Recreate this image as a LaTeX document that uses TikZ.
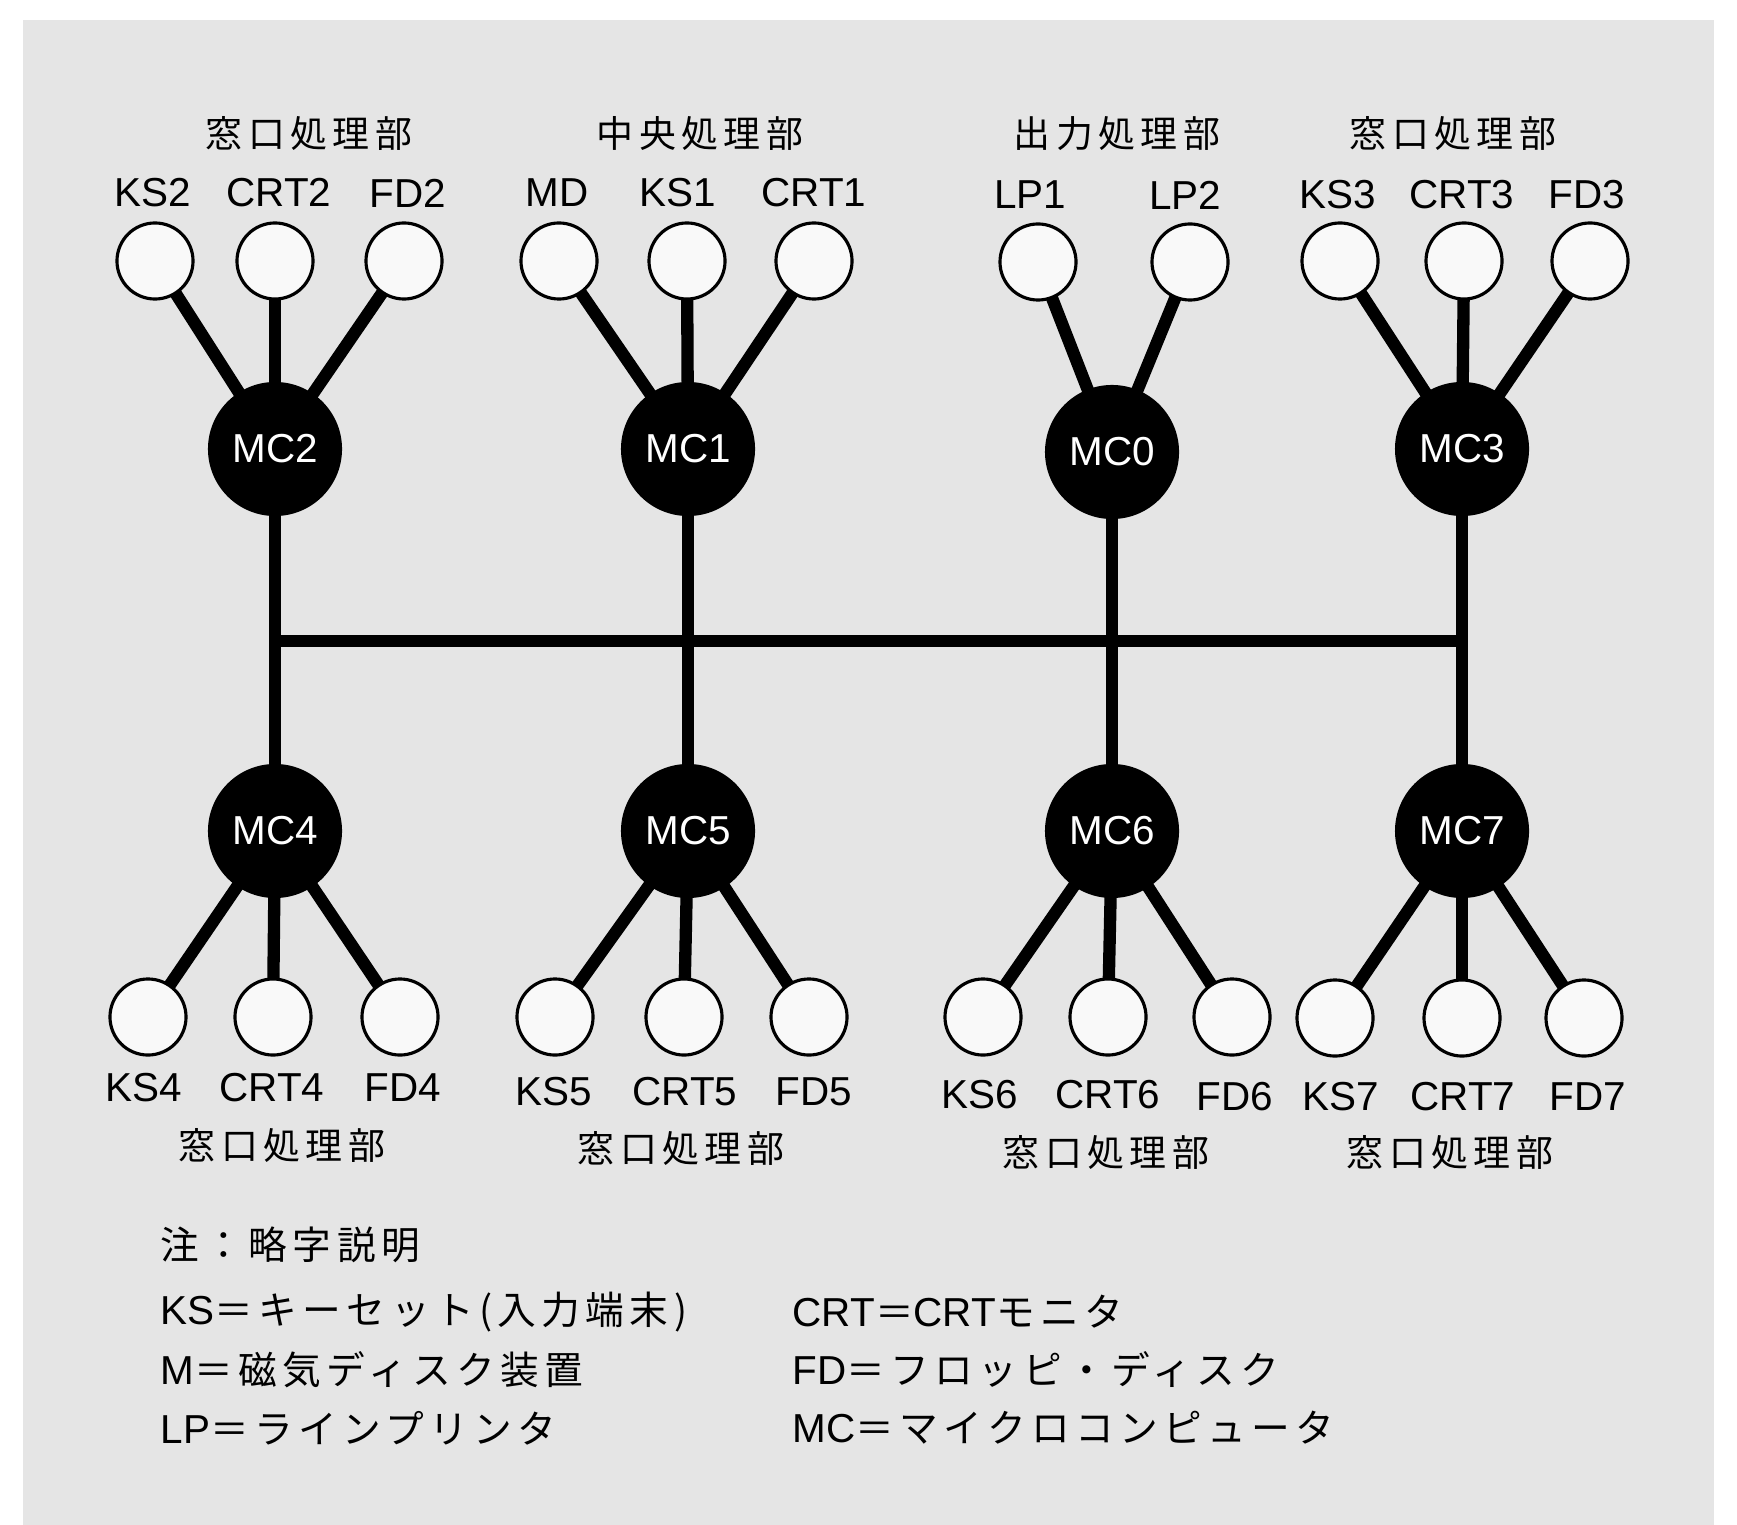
\documentclass[tikz,border=0pt]{standalone}
\usepackage{fontspec}
\setmainfont{Liberation Sans}
\newfontfamily\jpf[LetterSpace=15]{Noto Sans CJK JP}
\newfontfamily\jpleg[LetterSpace=14]{Noto Sans CJK JP}
\pgfdeclarelayer{bglayer}
\pgfdeclarelayer{linklayer}
\pgfsetlayers{bglayer,linklayer,main}
\definecolor{bggray}{HTML}{E5E5E5}
\definecolor{devfill}{HTML}{F9F9F9}
\tikzset{
  dev/.style={circle, draw=black, line width=0.9pt, fill=devfill, minimum size=0.76cm, inner sep=0pt},
  mc/.style={circle, fill=black, minimum size=1.34cm, inner sep=0pt, text=white, font=\fontsize{11.5}{13}\selectfont},
  link/.style={line width=3.5pt},
  lbl/.style={font=\fontsize{11.5}{13}\selectfont, inner sep=0pt},
  grp/.style={font=\fontsize{10.5}{12}\selectfont\jpf, inner sep=0pt},
  leg/.style={font=\fontsize{11.5}{13}\selectfont, inner sep=0pt, anchor=west},
}
\newcommand{\jl}[1]{{\fontsize{11}{13}\selectfont\jpleg #1}}
\begin{document}
\begin{tikzpicture}[x=0.01cm, y=-0.01cm]
\useasboundingbox (0,0) rectangle (1737,1525);
\begin{pgfonlayer}{bglayer}
\fill[bggray] (23,20) rectangle (1714,1525);
\end{pgfonlayer}

% microcomputers
\node[mc] (MC2) at (275,449) {MC2};
\node[mc] (MC1) at (688,449) {MC1};
\node[mc] (MC0) at (1112,452) {MC0};
\node[mc] (MC3) at (1462,449) {MC3};
\node[mc] (MC4) at (275,831) {MC4};
\node[mc] (MC5) at (688,831) {MC5};
\node[mc] (MC6) at (1112,831) {MC6};
\node[mc] (MC7) at (1462,831) {MC7};

% top devices
\node[dev] (KS2) at (155,261) {};
\node[dev] (CRT2) at (275,261) {};
\node[dev] (FD2) at (404,261) {};
\node[dev] (MD) at (559,261) {};
\node[dev] (KS1) at (687,261) {};
\node[dev] (CRT1) at (814,261) {};
\node[dev] (LP1) at (1038,262) {};
\node[dev] (LP2) at (1190,262) {};
\node[dev] (KS3) at (1340,261) {};
\node[dev] (CRT3) at (1464,261) {};
\node[dev] (FD3) at (1590,261) {};

% bottom devices
\node[dev] (KS4) at (148,1017) {};
\node[dev] (CRT4) at (273,1017) {};
\node[dev] (FD4) at (400,1017) {};
\node[dev] (KS5) at (555,1017) {};
\node[dev] (CRT5) at (684,1017) {};
\node[dev] (FD5) at (809,1017) {};
\node[dev] (KS6) at (983,1017) {};
\node[dev] (CRT6) at (1108,1017) {};
\node[dev] (FD6) at (1232,1017) {};
\node[dev] (KS7) at (1335,1018) {};
\node[dev] (CRT7) at (1462,1018) {};
\node[dev] (FD7) at (1584,1018) {};

% connectors
\coordinate (busLevel) at (0,641);
\coordinate (busL) at (MC2 |- busLevel);
\coordinate (busR) at (MC3 |- busLevel);
\begin{pgfonlayer}{linklayer}
\foreach \d in {KS2,CRT2,FD2} \draw[link] (\d.center) -- (MC2.center);
\foreach \d in {MD,KS1,CRT1} \draw[link] (\d.center) -- (MC1.center);
\foreach \d in {LP1,LP2} \draw[link] (\d.center) -- (MC0.center);
\foreach \d in {KS3,CRT3,FD3} \draw[link] (\d.center) -- (MC3.center);
\foreach \d in {KS4,CRT4,FD4} \draw[link] (\d.center) -- (MC4.center);
\foreach \d in {KS5,CRT5,FD5} \draw[link] (\d.center) -- (MC5.center);
\foreach \d in {KS6,CRT6,FD6} \draw[link] (\d.center) -- (MC6.center);
\foreach \d in {KS7,CRT7,FD7} \draw[link] (\d.center) -- (MC7.center);
\draw[link] (MC2.center) -- (MC4.center);
\draw[link] (MC1.center) -- (MC5.center);
\draw[link] (MC0.center) -- (MC6.center);
\draw[link] (MC3.center) -- (MC7.center);
\draw[link] (busL) -- (busR);
\end{pgfonlayer}

% top labels
\node[grp] (g2) at (309,134) {窓口処理部};
\node[grp] (g1) at (700,134) {中央処理部};
\node[grp] (g0) at (1117,134) {出力処理部};
\node[grp] (g3) at (1453,134) {窓口処理部};
\node[lbl] (tKS2) at (153,193) {KS2};
\node[lbl] (tCRT2) at (279,193) {CRT2};
\node[lbl] (tFD2) at (408,193) {FD2};
\node[lbl] (tMD) at (557,193) {MD};
\node[lbl] (tKS1) at (678,193) {KS1};
\node[lbl] (tCRT1) at (814,193) {CRT1};
\node[lbl] (tLP1) at (1030,195) {LP1};
\node[lbl] (tLP2) at (1185,195) {LP2};
\node[lbl] (tKS3) at (1338,195) {KS3};
\node[lbl] (tCRT3) at (1462,195) {CRT3};
\node[lbl] (tFD3) at (1587,195) {FD3};

% bottom labels
\node[lbl] (tKS4) at (144,1088) {KS4};
\node[lbl] (tCRT4) at (272,1088) {CRT4};
\node[lbl] (tFD4) at (403,1088) {FD4};
\node[lbl] (tKS5) at (554,1092) {KS5};
\node[lbl] (tCRT5) at (685,1092) {CRT5};
\node[lbl] (tFD5) at (814,1092) {FD5};
\node[lbl] (tKS6) at (980,1095) {KS6};
\node[lbl] (tCRT6) at (1108,1095) {CRT6};
\node[lbl] (tFD6) at (1235,1097) {FD6};
\node[lbl] (tKS7) at (1341,1097) {KS7};
\node[lbl] (tCRT7) at (1463,1097) {CRT7};
\node[lbl] (tFD7) at (1588,1097) {FD7};
\node[grp] (g4) at (282,1145) {窓口処理部};
\node[grp] (g5) at (681,1148) {窓口処理部};
\node[grp] (g6) at (1106,1152) {窓口処理部};
\node[grp] (g7) at (1450,1152) {窓口処理部};

% legend
\node[leg] (n0) at (160,1245) {\jl{注：略字説明}};
\node[leg] (n1) at (160,1312) {KS\jl{＝キーセット(入力端末)}};
\node[leg] (n2) at (160,1370) {M\jl{＝磁気ディスク装置}};
\node[leg] (n3) at (160,1428) {LP\jl{＝ラインプリンタ}};
\node[leg] (n4) at (792,1312) {CRT\jl{＝}CRT\jl{モニタ}};
\node[leg] (n5) at (792,1370) {FD\jl{＝フロッピ・ディスク}};
\node[leg] (n6) at (792,1428) {MC\jl{＝マイクロコンピュータ}};
\end{tikzpicture}
\end{document}
